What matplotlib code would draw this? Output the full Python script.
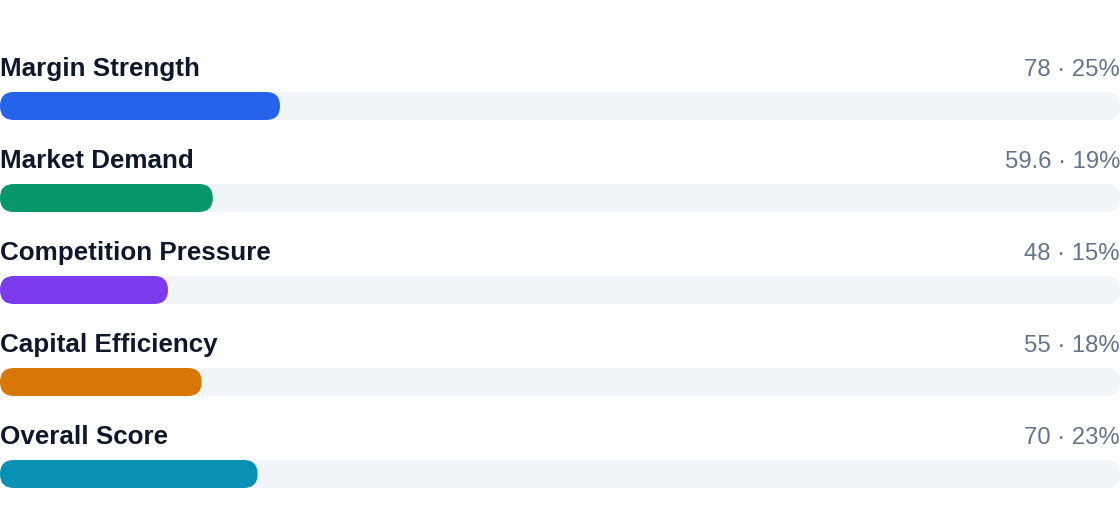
import matplotlib
matplotlib.use("Agg")
import matplotlib.pyplot as plt
from matplotlib.patches import FancyBboxPatch

plt.rcParams["font.family"] = ["Liberation Sans", "DejaVu Sans"]

# data
labels = ["Margin Strength", "Market Demand", "Competition Pressure",
          "Capital Efficiency", "Overall Score"]
values = [78, 59.6, 48, 55, 70]
colors = ["#2563eb", "#059669", "#7c3aed", "#d97706", "#0891b2"]

total = sum(values)
shares = [round(v / total * 100) for v in values]

W, H = 1120, 524
fig = plt.figure(figsize=(W / 100, H / 100), dpi=100)
ax = fig.add_axes([0, 0, 1, 1])
ax.set_xlim(0, 100)
ax.set_ylim(H, 0)
ax.axis("off")

px_x = W / 100.0          # pixels per x unit
bar_h = 28
radius = bar_h / 2
row_gap = 92
first_top = 92
fam = ["Liberation Sans", "DejaVu Sans"]

for i, (lab, val, sh, col) in enumerate(zip(labels, values, shares, colors)):
    top = first_top + i * row_gap
    # track
    track = FancyBboxPatch((0, top), 100, bar_h,
                           boxstyle=f"round,pad=0,rounding_size={radius / px_x}",
                           mutation_aspect=px_x, fc="#f1f5f9", ec="none")
    ax.add_patch(track)
    # fill
    fill = FancyBboxPatch((0, top), sh, bar_h,
                          boxstyle=f"round,pad=0,rounding_size={radius / px_x}",
                          mutation_aspect=px_x, fc=col, ec="none")
    ax.add_patch(fill)
    base = top - 16
    ax.text(0, base, lab, ha="left", va="baseline", fontsize=18.7,
            fontweight="bold", color="#0f172a", family=fam)
    val_txt = f"{val:g} \u00b7 {sh}%"
    ax.text(100, base, val_txt, ha="right", va="baseline", fontsize=17.2,
            color="#64748b", family=fam)

fig.savefig("out.png", dpi=100, facecolor="white")
